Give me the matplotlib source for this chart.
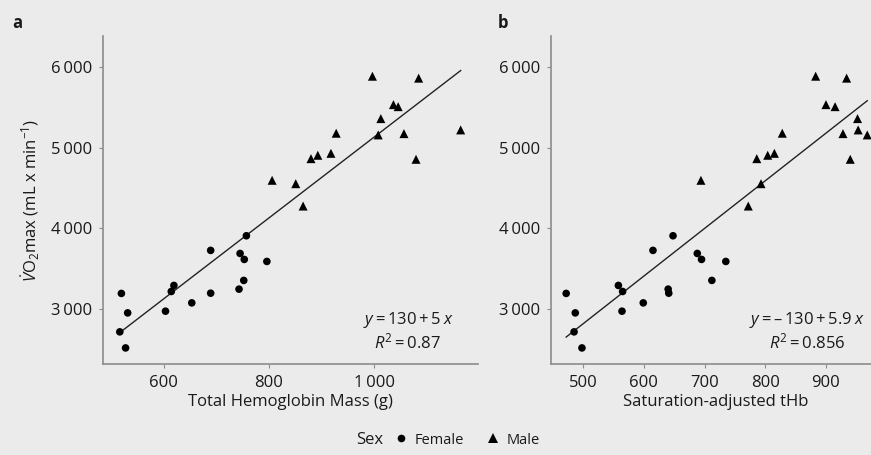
import matplotlib
matplotlib.use("Agg")
import matplotlib.pyplot as plt
import numpy as np
from matplotlib.lines import Line2D

# fonts: Open Sans with DejaVu as fallback
plt.rcParams['font.family'] = ['Open Sans', 'DejaVu Sans']
plt.rcParams['mathtext.fontset'] = 'custom'
plt.rcParams['mathtext.rm'] = 'Open Sans'
plt.rcParams['mathtext.it'] = 'Open Sans:italic'

# data (same subjects in both panels)
female_hbmass = [519, 531, 516, 527, 603, 614, 619, 653, 689, 689, 743, 745, 753, 752, 757, 796]
female_tHb = [472, 487, 485, 498, 564, 565, 558, 599, 615, 641, 640, 688, 695, 712, 648, 735]
female_vo2 = [3195, 2954, 2719, 2520, 2975, 3219, 3294, 3078, 3728, 3198, 3248, 3690, 3616, 3356, 3909, 3591]

male_hbmass = [806, 851, 865, 880, 893, 918, 928, 997, 1013, 1008, 1037, 1046, 1057, 1080, 1085, 1165]
male_tHb = [694, 793, 772, 786, 804, 815, 828, 883, 952, 968, 900, 915, 928, 940, 934, 953]
male_vo2 = [4596, 4554, 4277, 4864, 4906, 4930, 5179, 5885, 5360, 5158, 5533, 5508, 5174, 4856, 5861, 5220]

# regression coefficients as printed
fit_a = (130, 5.0)
fit_b = (-130, 5.9)

y_ticks = [3000, 4000, 5000, 6000]
x_ticks_a = [600, 800, 1000]
x_ticks_b = [500, 600, 700, 800, 900]

bg = '#ebebeb'
spine_col = '#8c8c8c'
txt = '#1a1a1a'

def fmt(v):
    s = str(v)
    if len(s) > 3:
        s = s[:-3] + '\u2009' + s[-3:]
    return s

fig = plt.figure(figsize=(8.71, 4.55), dpi=100, facecolor=bg)
W, H = 871, 455

def make_axes(left, right, top, bottom):
    return fig.add_axes([left / W, 1 - bottom / H, (right - left) / W, (bottom - top) / H])

ax_a = make_axes(103, 478, 36, 364)
ax_b = make_axes(551, 880, 36, 364)

panels = [
    (ax_a, female_hbmass, male_hbmass, fit_a, x_ticks_a, (484, 1198),
     'Total Hemoglobin Mass (g)', '$y$\u2009=\u2009130\u2009+\u20095\u2009$x$\n$R^2$\u2009=\u20090.87', 0.813),
    (ax_b, female_tHb, male_tHb, fit_b, x_ticks_b, (447, 989),
     'Saturation-adjusted tHb', '$y$\u2009=\u2009\u2013\u2009130\u2009+\u20095.9\u2009$x$\n$R^2$\u2009=\u20090.856', 0.778),
]

for ax, fx, mx, fit, xt, xl, xlabel, eq, eq_x in panels:
    ax.set_facecolor(bg)
    ax.scatter(fx, female_vo2, marker='o', s=30, color='black', edgecolor='none', zorder=3)
    ax.scatter(mx, male_vo2, marker='^', s=42, color='black', edgecolor='none', zorder=3, clip_on=False)

    allx = np.array(fx + mx)
    xs = np.array([allx.min(), allx.max()])
    ax.plot(xs, fit[0] + fit[1] * xs, color='#222222', lw=1.0, zorder=2)

    ax.set_xlim(*xl)
    ax.set_ylim(2321, 6383)
    ax.set_xticks(xt)
    ax.set_xticklabels([fmt(v) for v in xt])
    ax.set_yticks(y_ticks)
    ax.set_yticklabels([fmt(v) for v in y_ticks])

    for s in ['top', 'right']:
        ax.spines[s].set_visible(False)
    for s in ['left', 'bottom']:
        ax.spines[s].set_color(spine_col)
        ax.spines[s].set_linewidth(1.2)
    ax.tick_params(length=3, width=0.8, color=spine_col, labelcolor=txt, labelsize=12, pad=5)

    ax.set_xlabel(xlabel, fontsize=12, color=txt, labelpad=2)
    ax.text(eq_x, 0.10, eq, transform=ax.transAxes, ha='center', va='center',
            fontsize=12, color=txt, linespacing=1.1)

ax_a.set_ylabel('$\\dot{V}$O$_2$max (mL x min$^{-1}$)', fontsize=12, color=txt, labelpad=6)

fig.text(17 / W, 1 - 23 / H, 'a', fontsize=12, fontweight='bold', color=txt, ha='center', va='center')
fig.text(503 / W, 1 - 23 / H, 'b', fontsize=12, fontweight='bold', color=txt, ha='center', va='center')

# legend at the bottom
fig.text(370 / W, 1 - 440 / H, 'Sex', fontsize=12, color=txt, ha='center', va='center')
handles = [
    Line2D([], [], marker='o', ls='none', color='black', markersize=5.5, markeredgewidth=0),
    Line2D([], [], marker='^', ls='none', color='black', markersize=6.5, markeredgewidth=0),
]
leg = fig.legend(handles, ['Female', 'Male'], ncol=2, frameon=False,
                 loc='center', bbox_to_anchor=(466 / W, 1 - 440 / H),
                 fontsize=10.5, handletextpad=0.3, columnspacing=1.4, handlelength=1.2)
for t in leg.get_texts():
    t.set_color(txt)

fig.savefig('out.png', dpi=100, facecolor=bg)
